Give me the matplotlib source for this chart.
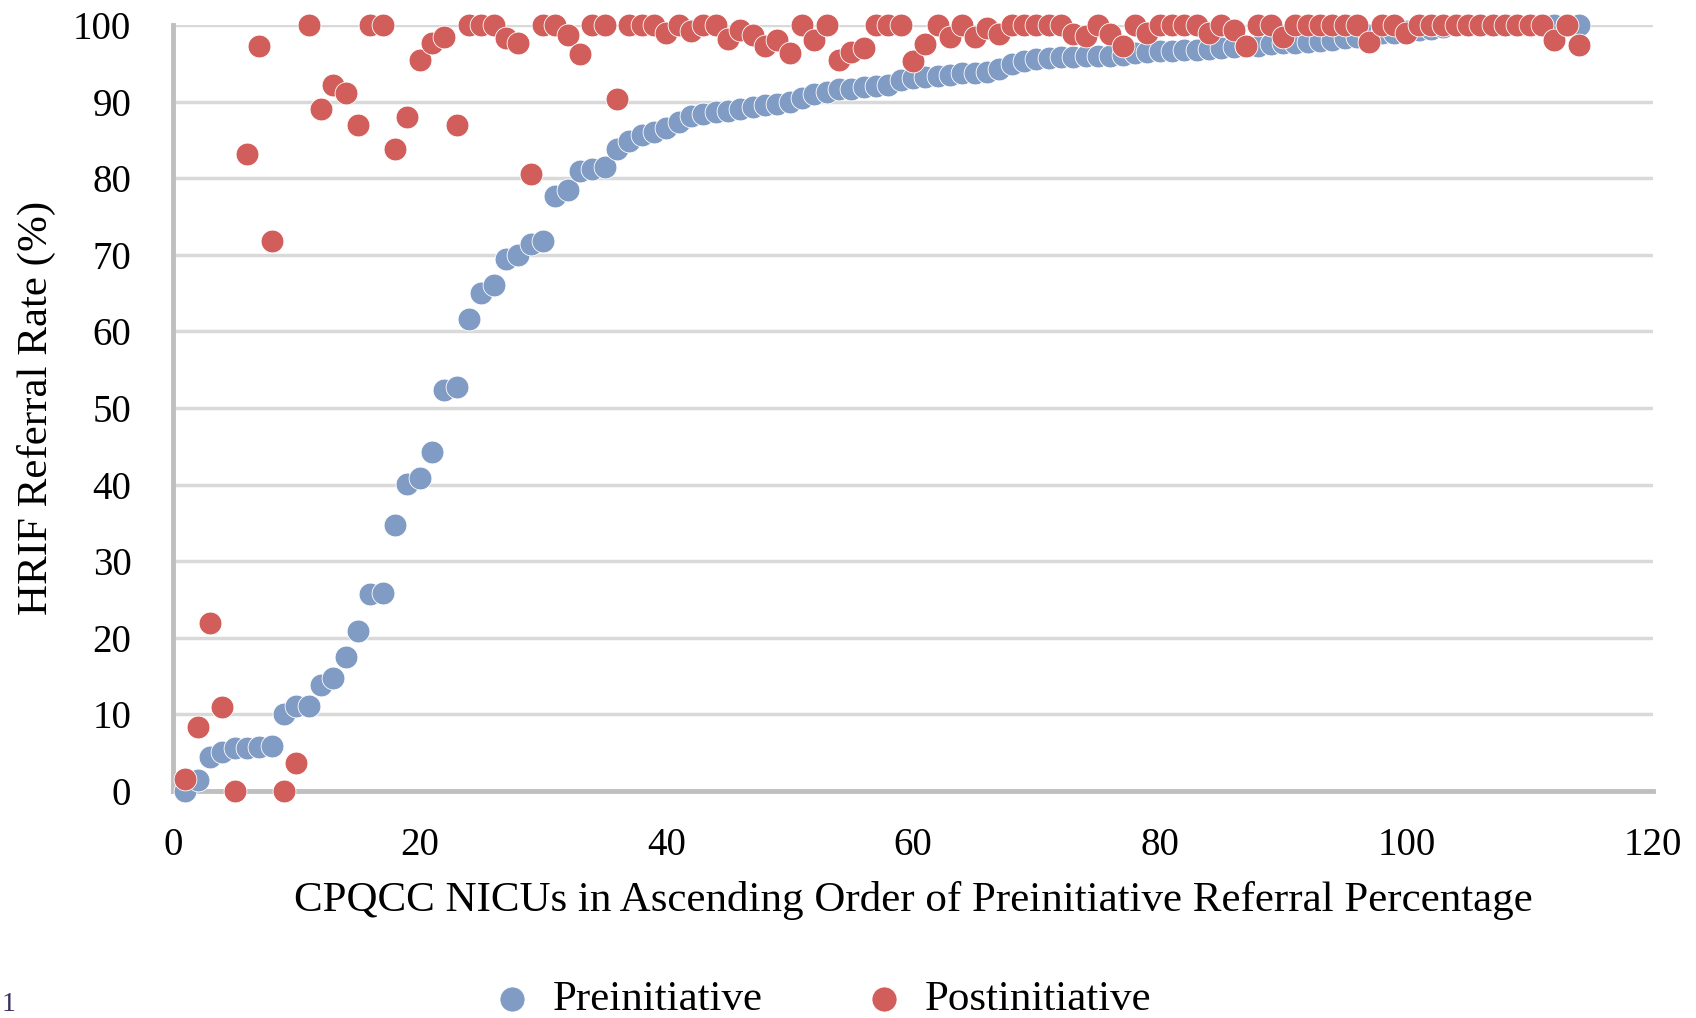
import matplotlib.pyplot as plt
import numpy as np

# NICU index (ascending order of preinitiative referral %)
nicu = np.arange(1, 115)

# Preinitiative referral rate (%)
pre = [0, 1.4, 4.4, 5.1, 5.6, 5.6, 5.8, 5.9, 10.1, 11.1,
       11.1, 13.8, 14.8, 17.5, 20.9, 25.7, 25.8, 34.7, 40.1, 40.8,
       44.3, 52.3, 52.8, 61.6, 65.0, 66.1, 69.5, 70.0, 71.4, 71.8,
       77.7, 78.5, 80.9, 81.2, 81.5, 83.8, 84.9, 85.6, 86.1, 86.6,
       87.3, 88.1, 88.4, 88.6, 88.8, 89.0, 89.3, 89.5, 89.7, 89.9,
       90.5, 91.0, 91.2, 91.6, 91.7, 91.9, 92.0, 92.2, 92.8, 93.1,
       93.2, 93.4, 93.5, 93.7, 93.8, 93.9, 94.3, 94.9, 95.3, 95.6,
       95.7, 95.8, 95.8, 95.9, 96.0, 96.0, 96.1, 96.3, 96.5, 96.6,
       96.6, 96.7, 96.8, 96.9, 97.0, 97.1, 97.2, 97.3, 97.5, 97.6,
       97.7, 97.8, 97.9, 98.1, 98.3, 98.5, 98.7, 98.9, 99.0, 99.2,
       99.4, 99.5, 99.7, 100, 100, 100, 100, 100, 100, 100,
       100, 100, 100, 100]

# Postinitiative referral rate (%)
post = [1.5, 8.3, 21.9, 11.0, 0, 83.2, 97.3, 71.8, 0, 3.7,
        100, 89.1, 92.2, 91.1, 86.9, 100, 100, 83.8, 88.0, 95.5,
        97.6, 98.4, 87.0, 100, 100, 100, 98.3, 97.6, 80.6, 100,
        100, 98.7, 96.2, 100, 100, 90.3, 100, 100, 100, 99.0,
        100, 99.2, 100, 100, 98.2, 99.3, 98.7, 97.3, 98.0, 96.3,
        100, 98.0, 100, 95.5, 96.5, 97.0, 100, 100, 100, 95.3,
        97.5, 100, 98.4, 100, 98.4, 99.6, 98.8, 100, 100, 100,
        100, 100, 98.8, 98.6, 100, 98.8, 97.2, 100, 99.0, 100,
        100, 100, 100, 99.0, 100, 99.4, 97.3, 100, 100, 98.5,
        100, 100, 100, 100, 100, 100, 97.8, 100, 100, 98.9,
        100, 100, 100, 100, 100, 100, 100, 100, 100, 100,
        100, 98.1, 100, 97.4]

blue = '#809BC4'
red = '#D15E5A'

plt.rcParams['font.family'] = ['Liberation Serif', 'DejaVu Serif']

fig = plt.figure(figsize=(16.96, 10.18), dpi=100)
ax = fig.add_axes([0.102, 0.223, 0.8726, 0.7524])

ax.scatter(nicu, pre, s=270, color=blue, edgecolors='white', linewidths=0.6,
           label='Preinitiative', clip_on=False, zorder=3)
ax.scatter(nicu, post, s=270, color=red, edgecolors='white', linewidths=0.6,
           label='Postinitiative', clip_on=False, zorder=4)

ax.set_xlim(0, 120)
ax.set_ylim(0, 100)
ax.set_xticks(range(0, 121, 20))
ax.set_yticks(range(0, 101, 10))
ax.yaxis.grid(True, color='#D9D9D9', linewidth=2.5)
ax.set_axisbelow(True)
ax.tick_params(length=0, labelsize=28, colors='black')
ax.tick_params(axis='y', pad=30)
ax.tick_params(axis='x', pad=26)

for s in ['top', 'right']:
    ax.spines[s].set_visible(False)
for s in ['left', 'bottom']:
    ax.spines[s].set_color('#BFBFBF')
    ax.spines[s].set_linewidth(3.5)

ax.set_xlabel('CPQCC NICUs in Ascending Order of Preinitiative Referral Percentage',
              fontsize=31, labelpad=12)
ax.set_ylabel('HRIF Referral Rate (%)', fontsize=31, labelpad=12)

fig.legend(loc='center', bbox_to_anchor=(0.484, 0.018), ncol=2, frameon=False,
           fontsize=31, markerscale=1.1, handlelength=1.0, handletextpad=0.45,
           columnspacing=2.3)

fig.text(0.001, 0.001, '1', fontsize=20, color='#3C3060', ha='left', va='bottom')

fig.savefig('out.png', dpi=100)
